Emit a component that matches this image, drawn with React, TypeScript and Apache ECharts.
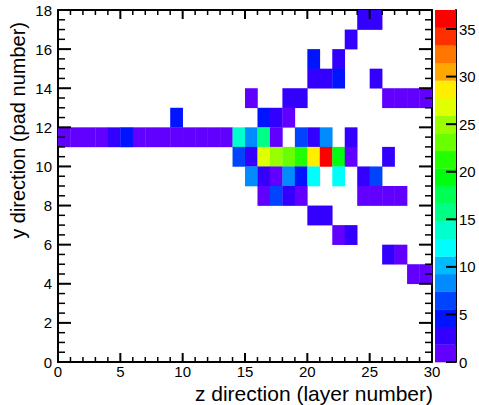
import React, { useEffect, useRef } from "react";
import * as echarts from "echarts";

// ---- data (pad row -> hit layers and counts) ----
const padRows = [17, 16, 15, 14, 13, 12, 11, 10, 9, 8, 7, 6, 5, 4];
const rowLayers = [
  [24, 25],
  [23],
  [20, 22],
  [20, 21, 22, 25],
  [15, 18, 19, 26, 27, 28, 29],
  [9, 16, 17, 18],
  [0, 1, 2, 3, 4, 5, 6, 7, 8, 9, 10, 11, 12, 13, 14, 15, 16, 17, 19, 20, 21, 23],
  [14, 15, 16, 17, 18, 19, 20, 21, 22, 23, 26],
  [15, 16, 17, 18, 19, 20, 22, 24, 25],
  [16, 17, 18, 19, 24, 25, 26, 27],
  [20, 21],
  [22, 23],
  [26, 27],
  [28, 29],
];
const rowCounts = [
  [3, 2],
  [3],
  [4, 2],
  [2, 2, 5, 2],
  [1, 2, 3, 1, 1, 1, 1],
  [4, 4, 2, 1],
  [1, 1, 1, 1, 2, 4, 1, 1, 1, 1, 1, 1, 1, 1, 14, 8, 15, 1, 6, 2, 9, 2],
  [6, 2, 27, 25, 23, 21, 29, 37, 19, 1, 2],
  [9, 2, 1, 9, 4, 12, 12, 2, 6],
  [1, 6, 3, 1, 1, 1, 1, 1],
  [2, 2],
  [1, 3],
  [2, 1],
  [1, 1],
];

const zTickLabels = [0, 5, 10, 15, 20, 25, 30, 35];

const X_MAX = 30;
const X_INTERVAL = 5;
const X_MINOR_SPLIT = 5;
const Y_MAX = 18;
const Y_INTERVAL = 2;
const Y_MINOR_SPLIT = 4;
const Z_MAX = 37;
const N_CONTOURS = 20;
const PALETTE = [
  "#6200ff", "#3300ff", "#0014ff", "#0044ff", "#008bff",
  "#00bbff", "#00fffc", "#00ffcc", "#00ff85", "#00ff55",
  "#00ff0e", "#22ff00", "#69ff00", "#99ff00", "#e0ff00",
  "#ffee00", "#ffa700", "#ff7700", "#ff3000", "#ff0000",
];

function levelOf(v: number) {
  return Math.min(N_CONTOURS - 1, Math.floor(0.01 + (v * N_CONTOURS) / Z_MAX));
}

const FONT = "Liberation Sans, Arial, Helvetica, sans-serif";

function lineSt(width = 2) {
  return { color: "#000", width };
}
function labelSt(show: boolean, margin: number) {
  return { show, color: "#000", fontSize: 15, fontFamily: FONT, margin };
}

function makeX(position: "bottom" | "top") {
  return {
    type: "value",
    gridIndex: 0,
    position,
    min: 0,
    max: X_MAX,
    interval: X_INTERVAL,
    axisLine: { show: true, onZero: false, lineStyle: lineSt() },
    axisTick: { show: false },
    splitLine: { show: false },
    axisLabel: labelSt(position === "bottom", 2),
  };
}
function makeY(position: "left" | "right") {
  return {
    type: "value",
    gridIndex: 0,
    position,
    min: 0,
    max: Y_MAX,
    interval: Y_INTERVAL,
    axisLine: { show: true, onZero: false, lineStyle: lineSt() },
    axisTick: { show: false },
    splitLine: { show: false },
    axisLabel: labelSt(position === "left", 6),
  };
}

// tick marks: [value, side(0 bottom,1 top,2 left,3 right), major(1/0)]
function buildTicks() {
  const t: number[][] = [];
  const xStep = X_INTERVAL / X_MINOR_SPLIT;
  for (let i = 0; i * xStep <= X_MAX + 1e-9; i++) {
    const v = i * xStep;
    const major = i % X_MINOR_SPLIT === 0 ? 1 : 0;
    t.push([v, 0, major], [v, 1, major]);
  }
  const yStep = Y_INTERVAL / Y_MINOR_SPLIT;
  for (let i = 0; i * yStep <= Y_MAX + 1e-9; i++) {
    const v = i * yStep;
    const major = i % Y_MINOR_SPLIT === 0 ? 1 : 0;
    t.push([v, 2, major], [v, 3, major]);
  }
  return t;
}

export default function App() {
  const ref = useRef<HTMLDivElement>(null);

  useEffect(() => {
    if (!ref.current) return;
    const chart = echarts.init(ref.current, undefined, { renderer: "svg" });

    const cells: number[][] = [];
    padRows.forEach((pad, i) => {
      rowLayers[i].forEach((layer, j) => {
        cells.push([layer, pad, rowCounts[i][j]]);
      });
    });

    const bands: number[][] = [];
    for (let k = 0; k < N_CONTOURS; k++) {
      bands.push([(k * Z_MAX) / N_CONTOURS, ((k + 1) * Z_MAX) / N_CONTOURS, k]);
    }

    chart.setOption({
      animation: false,
      backgroundColor: "#ffffff",
      grid: [
        { left: 58, top: 10, width: 374, height: 352 },
        { left: 435, top: 10, width: 21, height: 352 },
      ],
      xAxis: [
        makeX("bottom"),
        makeX("top"),
        { type: "value", gridIndex: 1, min: 0, max: 1, show: false },
      ],
      yAxis: [
        makeY("left"),
        makeY("right"),
        {
          type: "value",
          gridIndex: 1,
          position: "right",
          min: 0,
          max: Z_MAX,
          axisLine: { show: true, onZero: false, lineStyle: lineSt() },
          axisTick: { show: false },
          axisLabel: { ...labelSt(true, 3), customValues: zTickLabels },
          splitLine: { show: false },
        },
      ],
      series: [
        {
          type: "custom",
          xAxisIndex: 0,
          yAxisIndex: 0,
          data: cells,
          z: 2,
          renderItem: (params: any, api: any) => {
            const x = api.value(0);
            const y = api.value(1);
            const v = api.value(2);
            const p0 = api.coord([x, y + 1]);
            const p1 = api.coord([x + 1, y]);
            return {
              type: "rect",
              shape: { x: p0[0], y: p0[1], width: p1[0] - p0[0] + 0.3, height: p1[1] - p0[1] + 0.3 },
              style: { fill: PALETTE[levelOf(v)] },
            };
          },
        },
        {
          type: "custom",
          xAxisIndex: 0,
          yAxisIndex: 0,
          data: buildTicks(),
          z: 5,
          renderItem: (params: any, api: any) => {
            const v = api.value(0);
            const side = api.value(1);
            const major = api.value(2) === 1;
            const w = major ? 2 : 1.5;
            let shape;
            if (side === 0 || side === 1) {
              const L = major ? 9 : 5;
              const p = api.coord([v, side === 0 ? 0 : Y_MAX]);
              shape = { x: p[0] - w / 2, y: side === 0 ? p[1] - L : p[1], width: w, height: L };
            } else {
              const L = major ? 13 : 7;
              const p = api.coord([side === 2 ? 0 : X_MAX, v]);
              shape = { x: side === 2 ? p[0] : p[0] - L, y: p[1] - w / 2, width: L, height: w };
            }
            return { type: "rect", shape, style: { fill: "#000" } };
          },
        },
        {
          type: "custom",
          xAxisIndex: 2,
          yAxisIndex: 2,
          data: bands,
          z: 2,
          renderItem: (params: any, api: any) => {
            const lo = api.value(0);
            const hi = api.value(1);
            const k = api.value(2);
            const p0 = api.coord([0, hi]);
            const p1 = api.coord([1, lo]);
            return {
              type: "rect",
              shape: { x: p0[0], y: p0[1], width: p1[0] - p0[0], height: p1[1] - p0[1] + 0.3 },
              style: { fill: PALETTE[k] },
            };
          },
        },
        {
          type: "custom",
          xAxisIndex: 2,
          yAxisIndex: 2,
          data: zTickLabels.map((v) => [v]),
          z: 5,
          renderItem: (params: any, api: any) => {
            const p = api.coord([1, api.value(0)]);
            return {
              type: "rect",
              shape: { x: p[0] - 10, y: p[1] - 1, width: 10, height: 2 },
              style: { fill: "#000" },
            };
          },
        },
      ],
      graphic: [
        {
          type: "text",
          x: 433,
          y: 393,
          style: {
            text: "z direction (layer number)",
            fontSize: 21,
            fontFamily: FONT,
            fill: "#000",
            textAlign: "right",
            textVerticalAlign: "middle",
          },
        },
        {
          type: "text",
          x: 18,
          y: 22,
          rotation: Math.PI / 2,
          style: {
            text: "y direction (pad number)",
            fontSize: 20,
            fontFamily: FONT,
            fill: "#000",
            textAlign: "right",
            textVerticalAlign: "middle",
          },
        },
      ],
    });

    return () => chart.dispose();
  }, []);

  return <div ref={ref} style={{ position: "absolute", left: 0, top: 0, width: 479, height: 405 }} />;
}
